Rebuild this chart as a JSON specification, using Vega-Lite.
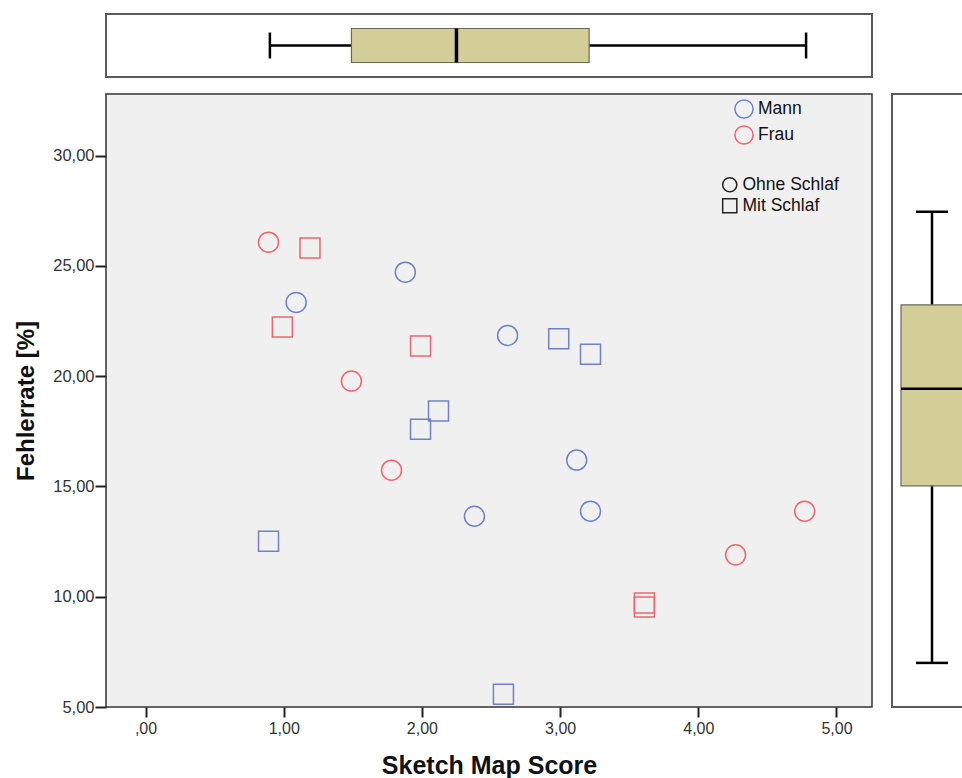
{
  "$schema": "https://vega.github.io/schema/vega-lite/v6.json",
  "padding": {"left": 13, "top": 13, "right": 0, "bottom": 0},
  "background": "white",
  "columns": 2,
  "bounds": "flush",
  "spacing": {"row": 17, "column": 20},
  "config": {
    "font": "Liberation Sans",
    "axis": {"labelFont": "Liberation Sans", "titleFont": "Liberation Sans"},
    "legend": {"labelFont": "Liberation Sans"}
  },
  "concat": [
    {
      "width": 766,
      "height": 63,
      "view": {"stroke": "#5a5a5a", "strokeWidth": 2, "fill": "white"},
      "data": {"values": [{"variable": "Sketch Map Score", "min": 0.9, "q1": 1.49, "median": 2.25, "q3": 3.21, "max": 4.78}]},
      "encoding": {"y": {"field": "variable", "type": "nominal", "axis": null}},
      "layer": [
        {
          "mark": {"type": "rule", "stroke": "black", "strokeWidth": 2.5},
          "encoding": {
            "x": {"field": "min", "type": "quantitative", "scale": {"domain": [-0.286, 5.257], "nice": false, "zero": false}, "axis": null},
            "x2": {"field": "max"}
          }
        },
        {
          "mark": {"type": "bar", "size": 34, "fill": "#d3ce98", "stroke": "#6b6b5a", "strokeWidth": 1.2},
          "encoding": {
            "x": {"field": "q1", "type": "quantitative", "scale": {"domain": [-0.286, 5.257], "nice": false, "zero": false}, "axis": null},
            "x2": {"field": "q3"}
          }
        },
        {
          "mark": {"type": "tick", "size": 34, "thickness": 3.5, "color": "black", "opacity": 1},
          "encoding": {"x": {"field": "median", "type": "quantitative", "scale": {"domain": [-0.286, 5.257], "nice": false, "zero": false}, "axis": null}}
        },
        {
          "mark": {"type": "tick", "size": 26, "thickness": 2.5, "color": "black", "opacity": 1},
          "encoding": {"x": {"field": "min", "type": "quantitative", "scale": {"domain": [-0.286, 5.257], "nice": false, "zero": false}, "axis": null}}
        },
        {
          "mark": {"type": "tick", "size": 26, "thickness": 2.5, "color": "black", "opacity": 1},
          "encoding": {"x": {"field": "max", "type": "quantitative", "scale": {"domain": [-0.286, 5.257], "nice": false, "zero": false}, "axis": null}}
        }
      ]
    },
    {
      "width": 80,
      "height": 63,
      "view": {"stroke": null},
      "data": {"values": []},
      "mark": "point"
    },
    {
      "width": 766,
      "height": 613,
      "view": {"fill": "#f0f0f0", "stroke": "#333333", "strokeWidth": 1.5},
      "data": {"values": [
        {"score": 1.09, "fehler": 23.35, "geschlecht": "Mann", "schlaf": "Ohne Schlaf"},
        {"score": 1.88, "fehler": 24.72, "geschlecht": "Mann", "schlaf": "Ohne Schlaf"},
        {"score": 2.62, "fehler": 21.85, "geschlecht": "Mann", "schlaf": "Ohne Schlaf"},
        {"score": 3.12, "fehler": 16.2, "geschlecht": "Mann", "schlaf": "Ohne Schlaf"},
        {"score": 2.38, "fehler": 13.65, "geschlecht": "Mann", "schlaf": "Ohne Schlaf"},
        {"score": 3.22, "fehler": 13.88, "geschlecht": "Mann", "schlaf": "Ohne Schlaf"},
        {"score": 2.99, "fehler": 21.7, "geschlecht": "Mann", "schlaf": "Mit Schlaf"},
        {"score": 3.22, "fehler": 21.0, "geschlecht": "Mann", "schlaf": "Mit Schlaf"},
        {"score": 2.12, "fehler": 18.42, "geschlecht": "Mann", "schlaf": "Mit Schlaf"},
        {"score": 1.99, "fehler": 17.6, "geschlecht": "Mann", "schlaf": "Mit Schlaf"},
        {"score": 0.89, "fehler": 12.52, "geschlecht": "Mann", "schlaf": "Mit Schlaf"},
        {"score": 2.59, "fehler": 5.58, "geschlecht": "Mann", "schlaf": "Mit Schlaf"},
        {"score": 0.89, "fehler": 26.08, "geschlecht": "Frau", "schlaf": "Ohne Schlaf"},
        {"score": 1.49, "fehler": 19.78, "geschlecht": "Frau", "schlaf": "Ohne Schlaf"},
        {"score": 1.78, "fehler": 15.74, "geschlecht": "Frau", "schlaf": "Ohne Schlaf"},
        {"score": 4.27, "fehler": 11.9, "geschlecht": "Frau", "schlaf": "Ohne Schlaf"},
        {"score": 4.77, "fehler": 13.88, "geschlecht": "Frau", "schlaf": "Ohne Schlaf"},
        {"score": 1.19, "fehler": 25.82, "geschlecht": "Frau", "schlaf": "Mit Schlaf"},
        {"score": 0.99, "fehler": 22.23, "geschlecht": "Frau", "schlaf": "Mit Schlaf"},
        {"score": 1.99, "fehler": 21.37, "geschlecht": "Frau", "schlaf": "Mit Schlaf"},
        {"score": 3.61, "fehler": 9.72, "geschlecht": "Frau", "schlaf": "Mit Schlaf"},
        {"score": 3.61, "fehler": 9.54, "geschlecht": "Frau", "schlaf": "Mit Schlaf"}
      ]},
      "mark": {"type": "point", "filled": false, "size": 400, "strokeWidth": 1.5, "opacity": 1},
      "encoding": {
        "x": {
          "field": "score", "type": "quantitative",
          "scale": {"domain": [-0.286, 5.257], "nice": false, "zero": false},
          "axis": {
            "title": "Sketch Map Score", "values": [0, 1, 2, 3, 4, 5],
            "labelExpr": "datum.value == 0 ? ',00' : replace(format(datum.value, '.2f'), '.', ',')",
            "grid": false, "domain": false, "tickSize": 10, "tickColor": "#222222", "tickWidth": 2,
            "labelFontSize": 16, "labelColor": "#333333", "labelPadding": 3,
            "titleFontSize": 25, "titleFontWeight": "bold", "titleColor": "#111111", "titlePadding": 17
          }
        },
        "y": {
          "field": "fehler", "type": "quantitative",
          "scale": {"domain": [5, 32.8], "nice": false, "zero": false},
          "axis": {
            "title": "Fehlerrate [%]", "values": [5, 10, 15, 20, 25, 30],
            "labelExpr": "replace(format(datum.value, '.2f'), '.', ',')",
            "grid": false, "domain": false, "tickSize": 11, "tickColor": "#222222", "tickWidth": 2,
            "labelFontSize": 16.5, "labelColor": "#333333", "labelPadding": 1,
            "titleFontSize": 24, "titleFontWeight": "bold", "titleColor": "#111111", "titlePadding": 14
          }
        },
        "color": {
          "field": "geschlecht", "type": "nominal",
          "scale": {"domain": ["Mann", "Frau"], "range": ["#6f80cc", "#f06470"]},
          "legend": {
            "title": null, "orient": "none", "legendX": 628, "legendY": 85,
            "symbolType": "circle", "symbolSize": 330, "symbolStrokeWidth": 1.5, "symbolFillColor": "transparent",
            "labelFontSize": 17.5, "labelColor": "#111111", "labelOffset": 4, "rowPadding": 0, "padding": 0
          }
        },
        "shape": {
          "field": "schlaf", "type": "nominal",
          "scale": {"domain": ["Ohne Schlaf", "Mit Schlaf"], "range": ["circle", "square"]},
          "legend": {
            "title": null, "orient": "none", "legendX": 615, "legendY": 162,
            "symbolSize": 200, "symbolStrokeWidth": 1.5, "symbolStrokeColor": "#222222", "symbolFillColor": "transparent",
            "labelFontSize": 17.5, "labelColor": "#111111", "labelOffset": 4, "rowPadding": 0, "padding": 0
          }
        }
      }
    },
    {
      "width": 80,
      "height": 613,
      "view": {"stroke": "#5a5a5a", "strokeWidth": 2, "fill": "white"},
      "data": {"values": [{"variable": "Fehlerrate", "min": 7.0, "q1": 15.03, "median": 19.43, "q3": 23.24, "max": 27.46}]},
      "encoding": {"x": {"field": "variable", "type": "nominal", "axis": null}},
      "layer": [
        {
          "mark": {"type": "rule", "stroke": "black", "strokeWidth": 2.5},
          "encoding": {
            "y": {"field": "min", "type": "quantitative", "scale": {"domain": [5, 32.8], "nice": false, "zero": false}, "axis": null},
            "y2": {"field": "max"}
          }
        },
        {
          "mark": {"type": "bar", "size": 62, "fill": "#d3ce98", "stroke": "#6b6b5a", "strokeWidth": 1.2},
          "encoding": {
            "y": {"field": "q1", "type": "quantitative", "scale": {"domain": [5, 32.8], "nice": false, "zero": false}, "axis": null},
            "y2": {"field": "q3"}
          }
        },
        {
          "mark": {"type": "tick", "size": 62, "thickness": 2.5, "color": "black", "opacity": 1},
          "encoding": {"y": {"field": "median", "type": "quantitative", "scale": {"domain": [5, 32.8], "nice": false, "zero": false}, "axis": null}}
        },
        {
          "mark": {"type": "tick", "size": 32, "thickness": 2.5, "color": "black", "opacity": 1},
          "encoding": {"y": {"field": "min", "type": "quantitative", "scale": {"domain": [5, 32.8], "nice": false, "zero": false}, "axis": null}}
        },
        {
          "mark": {"type": "tick", "size": 32, "thickness": 2.5, "color": "black", "opacity": 1},
          "encoding": {"y": {"field": "max", "type": "quantitative", "scale": {"domain": [5, 32.8], "nice": false, "zero": false}, "axis": null}}
        }
      ]
    }
  ]
}
